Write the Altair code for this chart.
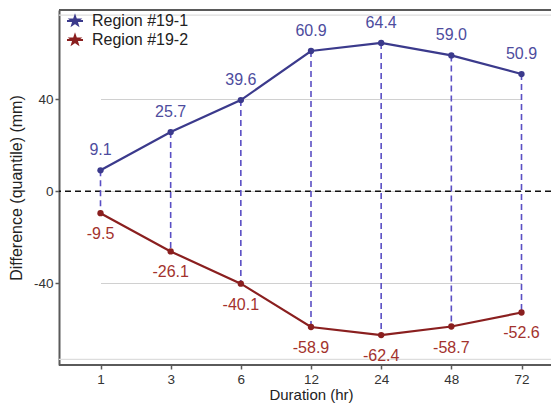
import altair as alt
import pandas as pd

durations = ["1", "3", "6", "12", "24", "48", "72"]
region1 = [9.1, 25.7, 39.6, 60.9, 64.4, 59.0, 50.9]
region2 = [-9.5, -26.1, -40.1, -58.9, -62.4, -58.7, -52.6]
series = ["Region #19-1", "Region #19-2"]
line_colors = ["#3b3a8c", "#8a1f1f"]
label_colors = ["#4d4c9e", "#a3322d"]
y_domain = [-75.4, 78.7]

long = pd.DataFrame({
    "Duration": durations * 2,
    "Value": region1 + region2,
    "Series": [series[0]] * len(durations) + [series[1]] * len(durations),
})
wide = pd.DataFrame({"Duration": durations, "hi": region1, "lo": region2})

FONT = "Liberation Sans"
xscale = alt.Scale(type="point", padding=0, range=[41.5, 462.5])
xenc = alt.X("Duration:N", sort=durations, title="Duration (hr)", scale=xscale,
             axis=alt.Axis(labelAngle=0, domain=False))
yscale = alt.Scale(domain=y_domain, nice=False, zero=False)

star = ("M-1,0L1,0M0,-0.58L0.136,-0.187L0.552,-0.179L0.22,0.072L0.341,0.47"
        "L0,0.232L-0.341,0.47L-0.22,0.072L-0.552,-0.179L-0.136,-0.187Z")

base = alt.Chart(long)

frame = alt.Chart(pd.DataFrame({"v": [y_domain[1], y_domain[0]]})).mark_rule(
    color="#5a5a5a", strokeWidth=2
).encode(y=alt.Y("v:Q", scale=yscale))

inner = alt.Chart(pd.DataFrame({"v": [y_domain[1] - 2.2, y_domain[0] + 2.4]})).mark_rule(
    color="#dddddd", strokeWidth=1.2
).encode(y=alt.Y("v:Q", scale=yscale))

zero = alt.Chart(pd.DataFrame({"v": [0]})).mark_rule(
    color="#111111", strokeWidth=1.6, strokeDash=[6, 4]
).encode(y=alt.Y("v:Q", scale=yscale))

vrules = alt.Chart(wide).mark_rule(
    color="#5a4fc4", strokeWidth=1.6, strokeDash=[6, 4]
).encode(x=xenc, y=alt.Y("hi:Q", scale=yscale), y2="lo:Q")

color = alt.Color(
    "Series:N", sort=series,
    scale=alt.Scale(domain=series, range=line_colors),
    legend=alt.Legend(
        title=None, orient="none", legendX=7, legendY=2,
        symbolType=star, symbolSize=256, symbolStrokeWidth=2,
        labelFont=FONT, labelFontSize=16, labelColor="#222222",
        rowPadding=2, padding=0, labelOffset=8,
    ),
)

lines = base.mark_line(strokeWidth=2.2).encode(
    x=xenc,
    y=alt.Y("Value:Q", scale=yscale, title="Difference (quantile) (mm)",
            axis=alt.Axis(values=[-40, 0, 40], labelExpr="toString(datum.value)")),
    color=color,
)
points = base.mark_circle(size=40, opacity=1).encode(
    x=xenc, y=alt.Y("Value:Q", scale=yscale),
    color=alt.Color("Series:N", sort=series,
                    scale=alt.Scale(domain=series, range=line_colors), legend=None),
)

labelled = base.transform_calculate(
    lbl="replace(format(datum.Value, '.1f'), '\u2212', '-')"
)
lab1 = labelled.transform_filter(alt.datum.Series == series[0]).mark_text(
    dy=-20, fontSize=16, font=FONT, color=label_colors[0]
).encode(x=xenc, y=alt.Y("Value:Q", scale=yscale), text="lbl:N")
lab2 = labelled.transform_filter(alt.datum.Series == series[1]).mark_text(
    dy=21, fontSize=16, font=FONT, color=label_colors[1]
).encode(x=xenc, y=alt.Y("Value:Q", scale=yscale), text="lbl:N")

chart = alt.layer(inner, frame, zero, vrules, lines, points, lab1, lab2).properties(
    width=492, height=355,
    autosize=alt.AutoSizeParams(type="none"),
    padding={"left": 51, "top": 2, "right": 0, "bottom": 39},
    background="white",
).configure_view(stroke=None).configure_axis(
    labelFont=FONT, labelFontSize=13.5, labelColor="#333333",
    titleFont=FONT, titleColor="#222222", titleFontWeight="normal",
    domainColor="#5a5a5a", domainWidth=2,
    tickColor="#5a5a5a", tickWidth=1.5, tickSize=4,
    gridColor="#d0d0d0", gridWidth=1.2,
).configure_axisX(grid=False, labelPadding=3, titlePadding=2, titleFontSize=15).configure_axisY(
    grid=True, labelPadding=2, titlePadding=9, titleFontSize=16
)

chart.save("out.html", embed_options={"renderer": "svg", "actions": False})
